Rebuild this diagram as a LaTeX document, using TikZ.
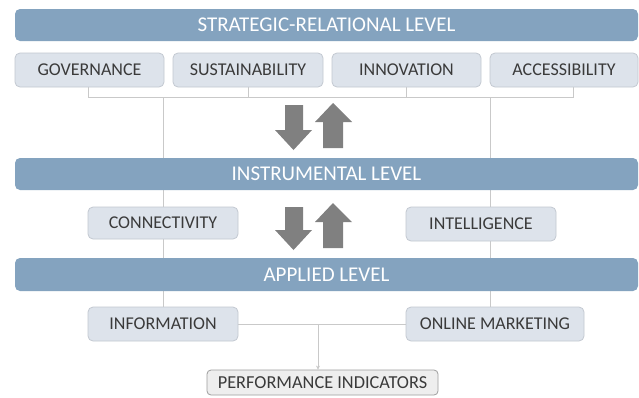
\documentclass[tikz,border=0pt]{standalone}
\usepackage{fontspec}
\setmainfont{Carlito}
\usetikzlibrary{arrows.meta,backgrounds}
\definecolor{band}{HTML}{84A3BF}
\definecolor{txt}{HTML}{3A3A3A}
\definecolor{boxfill}{HTML}{DDE3EB}
\definecolor{boxline}{HTML}{C3C9D1}
\definecolor{conn}{HTML}{C9C9C9}
\definecolor{arr}{HTML}{808080}
\definecolor{perffill}{HTML}{EEEEEE}
\definecolor{perfline}{HTML}{9E9E9E}
\tikzset{
  bandbox/.style={fill=band, rounded corners=5pt, minimum width=623pt, minimum height=32pt,
    inner sep=0pt, text=white, font=\fontsize{21}{23}\selectfont},
  itembox/.style={fill=boxfill, draw=boxline, line width=0.8pt, rounded corners=5pt, minimum height=34pt,
    inner sep=0pt, text=txt, font=\fontsize{18}{20}\selectfont},
  perfbox/.style={fill=perffill, draw=perfline, line width=0.8pt, rounded corners=4pt, minimum height=25pt,
    minimum width=231pt, inner sep=0pt, text=txt, font=\fontsize{18.3}{20}\selectfont},
  link/.style={draw=conn, line width=1pt},
  bigarrow/.style={fill=arr, draw=none}
}
\begin{document}
\begin{tikzpicture}[x=1pt,y=-1pt]
\useasboundingbox (0,0) rectangle (639,397);

\node[bandbox] (strat) at (326.5,25) {STRATEGIC-RELATIONAL LEVEL};
\node[itembox, minimum width=149pt] (gov) at (89.5,70) {GOVERNANCE};
\node[itembox, minimum width=150pt] (sus) at (248,70) {SUSTAINABILITY};
\node[itembox, minimum width=149pt] (inn) at (406.5,70) {INNOVATION};
\node[itembox, minimum width=148pt] (acc) at (564,70) {ACCESSIBILITY};

\node[bandbox] (instr) at (326.5,174) {INSTRUMENTAL LEVEL};
\node[itembox, minimum width=150pt, minimum height=32pt] (connv) at (163,223) {CONNECTIVITY};
\node[itembox, minimum width=150pt] (intel) at (481,224) {INTELLIGENCE};

\node[bandbox, minimum height=33pt] (appl) at (326.5,274.5) {APPLIED LEVEL};
\node[itembox, minimum width=150pt] (info) at (163,324) {INFORMATION};
\node[itembox, minimum width=178pt] (online) at (495,324) {ONLINE MARKETING};

\node[perfbox] (perf) at (322.5,382.5) {PERFORMANCE INDICATORS};

\coordinate (hl) at (88,97);
\coordinate (hr) at (573,97);
\coordinate (vr) at (490,97);
\coordinate (mid) at (318,324);

\begin{scope}[on background layer]
  \fill[white] (0,0) rectangle (639,397);
  \draw[link] (gov.south -| hl) -- (hl) -- (hr) -- (acc.south -| hr);
  \draw[link] (sus.south) -- (sus.south |- hl);
  \draw[link] (inn.south) -- (inn.south |- hl);
  \draw[link] (info.north |- hl) -- (info.north);
  \draw[link] (vr) -- (vr |- online.north);
  \draw[link] (info.east) -- (online.west);
  \draw[link, -{Stealth[length=4pt,width=4pt]}] (mid) -- (mid |- perf.north);
\end{scope}

% big double arrows
\fill[bigarrow] (285,105) -- (303,105) -- (303,130) -- (312,130) -- (293.5,150) -- (275,130) -- (285,130) -- cycle;
\fill[bigarrow] (323,148) -- (343,148) -- (343,122) -- (352,122) -- (333,103) -- (315,122) -- (323,122) -- cycle;
\fill[bigarrow] (285,207) -- (303,207) -- (303,230) -- (312,230) -- (293.5,250) -- (275,230) -- (285,230) -- cycle;
\fill[bigarrow] (323,248) -- (343,248) -- (343,222) -- (352,222) -- (333,203) -- (315,222) -- (323,222) -- cycle;
\end{tikzpicture}
\end{document}
